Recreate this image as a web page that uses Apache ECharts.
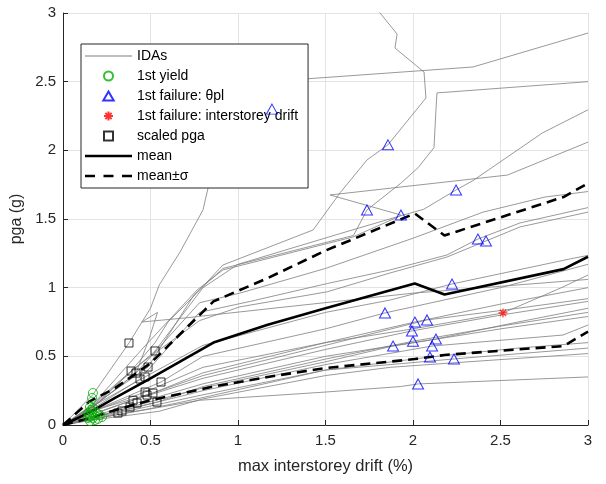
<!DOCTYPE html>
<html>
<head>
<meta charset="utf-8">
<script src="https://cdn.jsdelivr.net/npm/echarts@6/dist/echarts.min.js"></script>
<style>html,body{margin:0;padding:0;background:#fff;}#c{width:606px;height:484px;}</style>
</head>
<body>
<div id="c"></div>
<script>
// ---- tick labels / axes ----
const xTicks = [0, 0.5, 1, 1.5, 2, 2.5, 3];
const yTicks = [0, 0.5, 1, 1.5, 2, 2.5, 3];

// ---- IDA curves: [max interstorey drift (%), pga (g)] ----
const idaA = [[0,0],[0.17,0.22],[0.377,0.597],[0.5,0.85],[0.55,1.02],[0.669,1.26],[0.8,1.566],[0.829,1.726],[1.051,1.93],[1.171,2.075],[1.194,2.30],[1.143,2.498],[2.343,2.607],[3.0,2.854]];
const idaB = [[0,0],[0.16,0.14],[0.389,0.393],[0.526,0.6],[0.6,0.75],[0.743,0.932],[0.914,1.165],[1.429,1.42],[1.583,1.69],[1.737,1.93],[1.857,2.04],[2.074,2.381],[2.063,2.57],[1.897,2.745],[1.909,2.847],[1.78,3.05]];
const idaC = [[0,0],[0.16,0.13],[0.486,0.422],[0.75,0.95],[0.914,1.14],[1.66,1.38],[1.737,1.566],[1.93,1.76],[2.03,1.875],[2.12,2.02],[2.13,2.27],[2.137,2.418],[3.0,2.50]];
const idaF = [[0,0],[0.15,0.12],[0.45,0.55],[0.766,0.983],[0.914,1.129],[1.657,1.369],[1.914,1.515],[1.931,1.529],[1.526,1.675],[2.54,1.82],[3.0,2.06]];
const idaG = [[0,0],[0.17,0.14],[0.526,0.539],[0.8,1.0],[1.0,1.17],[1.6,1.4],[1.92,1.52],[2.06,1.57],[2.246,1.711],[2.343,1.78],[2.74,2.127],[3.0,2.295]];
const idaH = [[0,0],[0.16,0.11],[0.44,0.335],[0.78,0.82],[1.07,0.9],[1.51,1.03],[1.869,1.129],[2.194,1.238],[2.371,1.354],[2.611,1.471],[3.0,1.583]];
const idaI = [[0,0],[0.15,0.1],[0.389,0.393],[0.5,0.5],[0.78,0.76],[1.01,0.86],[1.51,0.97],[1.869,1.107],[2.194,1.223],[2.417,1.34],[2.611,1.442],[3.0,1.55]];
const idaJ = [[0,0],[0.15,0.11],[0.417,0.378],[0.78,0.89],[1.01,0.96],[1.5,1.14],[2.0,1.36],[2.4,1.55],[2.754,1.66],[3.0,1.70]];
const idaK = [[0,0],[0.16,0.13],[0.469,0.35],[0.8,0.58],[1.5,0.82],[1.87,0.91],[2.223,1.027],[2.9,1.21],[3.0,1.235]];
const idaL = [[0,0],[0.17,0.1],[0.56,0.313],[0.8,0.5],[1.5,0.7],[1.84,0.816],[2.5,1.0],[3.0,1.17]];
const idaM = [[0,0],[0.15,0.09],[0.469,0.24],[0.8,0.42],[1.5,0.6],[2.0,0.7],[2.514,0.816],[2.726,0.932],[2.857,1.005],[3.0,1.092]];
const idaZ = [[0,0],[0.16,0.12],[0.417,0.378],[0.49,0.62],[0.54,0.82],[0.45,0.75],[0.7,0.78],[1.2,0.85],[2.0,0.96],[3.0,1.06]];
const idaN = [[0,0],[0.16,0.1],[0.514,0.233],[0.8,0.38],[1.5,0.6],[2.011,0.75],[2.5,0.88],[3.0,1.0]];
const idaO = [[0,0],[0.17,0.08],[0.48,0.218],[0.8,0.36],[1.5,0.58],[2.08,0.765],[2.6,0.85],[3.0,0.92]];
const idaP = [[0,0],[0.15,0.07],[0.4,0.18],[0.8,0.34],[1.5,0.55],[1.994,0.685],[2.5,0.8],[3.0,0.90]];
const idaQ = [[0,0],[0.16,0.06],[0.423,0.16],[0.8,0.3],[1.5,0.5],[2.131,0.626],[2.6,0.75],[3.0,0.85]];
const idaR = [[0,0],[0.18,0.06],[0.537,0.167],[0.8,0.28],[1.5,0.48],[2.0,0.61],[2.5,0.72],[3.0,0.82]];
const idaS = [[0,0],[0.16,0.05],[0.383,0.131],[0.8,0.27],[1.5,0.46],[1.886,0.575],[2.5,0.7],[3.0,0.79]];
const idaT = [[0,0],[0.15,0.045],[0.337,0.102],[0.8,0.25],[1.5,0.44],[2.109,0.575],[2.857,0.655],[3.0,0.728]];
const idaU = [[0,0],[0.17,0.04],[0.314,0.087],[0.8,0.22],[1.5,0.4],[2.097,0.495],[2.6,0.56],[3.0,0.60]];
const idaV = [[0,0],[0.2,0.05],[0.5,0.12],[0.8,0.2],[1.5,0.4],[1.87,0.44],[2.234,0.481],[3.0,0.56]];
const idaW = [[0,0],[0.19,0.04],[0.55,0.1],[0.8,0.19],[1.5,0.36],[1.87,0.42],[2.2,0.45],[3.0,0.52]];
const idaX = [[0,0],[0.2,0.05],[0.78,0.18],[1.5,0.24],[1.93,0.28],[2.029,0.299],[3.0,0.35]];

// ---- markers ----
const firstYield = [[0.171,0.233],[0.166,0.197],[0.154,0.131],[0.171,0.124],[0.166,0.095],[0.143,0.087],[0.194,0.087],[0.211,0.073],[0.154,0.058],[0.171,0.051],[0.223,0.058],[0.143,0.051],[0.183,0.036],[0.154,0.029],[0.16,0.11],[0.18,0.07],[0.15,0.075],[0.2,0.045]];
const failTheta = [[1.194,2.30],[1.857,2.04],[2.246,1.711],[1.737,1.566],[1.931,1.529],[2.371,1.354],[2.417,1.34],[2.223,1.027],[1.84,0.816],[2.011,0.75],[2.08,0.765],[1.994,0.685],[2.131,0.626],[2.0,0.61],[1.886,0.575],[2.109,0.575],[2.097,0.495],[2.234,0.481],[2.029,0.299]];
const failDrift = [[2.514,0.816]];
const scaledPga = [[0.377,0.597],[0.526,0.539],[0.486,0.422],[0.389,0.393],[0.417,0.378],[0.469,0.35],[0.44,0.335],[0.56,0.313],[0.469,0.24],[0.514,0.233],[0.48,0.218],[0.537,0.167],[0.423,0.16],[0.4,0.18],[0.383,0.131],[0.337,0.102],[0.314,0.087]];

// ---- statistics ----
const meanCurve  = [[0,0],[0.15,0.09],[0.3,0.2],[0.5,0.34],[0.86,0.6],[1.17,0.73],[1.5,0.85],[2.01,1.03],[2.18,0.95],[2.86,1.135],[3.0,1.225]];
const meanPlusSd = [[0,0],[0.15,0.17],[0.3,0.27],[0.5,0.45],[0.86,0.9],[1.17,1.07],[1.5,1.27],[2.01,1.54],[2.18,1.38],[2.86,1.66],[3.0,1.76]];
const meanMinusSd= [[0,0],[0.15,0.05],[0.3,0.11],[0.5,0.18],[0.86,0.28],[1.17,0.35],[1.5,0.415],[2.01,0.48],[2.18,0.51],[2.86,0.575],[3.0,0.68]];

const idaCurves = [idaA,idaB,idaC,idaF,idaG,idaH,idaI,idaJ,idaK,idaL,idaM,idaZ,idaN,idaO,idaP,idaQ,idaR,idaS,idaT,idaU,idaV,idaW,idaX];

const FONT = '"Liberation Sans", Arial, Helvetica, sans-serif';
const TXT = '#262626';

const series = [];
idaCurves.forEach(function (d) {
  series.push({
    name: 'IDAs', type: 'line', data: d, symbol: 'none', showSymbol: false,
    lineStyle: { color: '#7f7f7f', width: 0.8 }, itemStyle: { color: '#7f7f7f' },
    silent: true, z: 2, animation: false
  });
});
series.push({
  name: '1st yield', type: 'scatter', data: firstYield, symbol: 'circle', symbolSize: 9,
  itemStyle: { color: 'rgba(0,0,0,0)', borderColor: '#00b000', borderWidth: 1 }, z: 5, animation: false
});
series.push({
  name: '1st failure: θpl', type: 'scatter', data: failTheta, symbol: 'triangle', symbolSize: [11, 10],
  itemStyle: { color: 'rgba(0,0,0,0)', borderColor: '#0000ff', borderWidth: 1 }, z: 5, animation: false
});
series.push({
  name: '1st failure: interstorey drift', type: 'scatter', data: failDrift,
  symbol: 'path://M5,0L5,10M0,5L10,5M1.5,1.5L8.5,8.5M8.5,1.5L1.5,8.5', symbolSize: 9,
  itemStyle: { color: 'rgba(0,0,0,0)', borderColor: '#ff0000', borderWidth: 1.2 }, z: 5, animation: false
});
series.push({
  name: 'scaled pga', type: 'scatter', data: scaledPga, symbol: 'rect', symbolSize: 8,
  itemStyle: { color: 'rgba(0,0,0,0)', borderColor: '#000000', borderWidth: 1 }, z: 5, animation: false
});
series.push({
  name: 'mean', type: 'line', data: meanCurve, symbol: 'none', showSymbol: false,
  lineStyle: { color: '#000', width: 2.6 }, itemStyle: { color: '#000' }, z: 4, animation: false
});
series.push({
  name: 'mean±σ', type: 'line', data: meanPlusSd, symbol: 'none', showSymbol: false,
  lineStyle: { color: '#000', width: 2.6, type: [10, 6] }, itemStyle: { color: '#000' }, z: 4, animation: false
});
series.push({
  name: 'mean±σ', type: 'line', data: meanMinusSd, symbol: 'none', showSymbol: false,
  lineStyle: { color: '#000', width: 2.6, type: [10, 6] }, itemStyle: { color: '#000' }, z: 4, animation: false
});

const chart = echarts.init(document.getElementById('c'), null, { renderer: 'canvas' });
chart.setOption({
  backgroundColor: '#fff',
  animation: false,
  grid: { left: 63, right: 18, top: 13, bottom: 59, containLabel: false },
  legend: {
    orient: 'vertical', left: 81, top: 44,
    backgroundColor: '#fff', borderColor: '#262626', borderWidth: 1,
    padding: [5, 10, 5, 4], itemWidth: 47, itemHeight: 9, itemGap: 6,
    selectedMode: false,
    textStyle: { fontSize: 14, color: '#000', fontFamily: FONT },
    data: [
      { name: 'IDAs', icon: 'path://M0,0H47V1H0Z' },
      { name: '1st yield', icon: 'circle' },
      { name: '1st failure: θpl', icon: 'path://M5.5,0L11,9.5L0,9.5Z' },
      { name: '1st failure: interstorey drift' },
      { name: 'scaled pga', icon: 'path://M0,0H8V8H0Z' },
      { name: 'mean', icon: 'path://M0,0H47V2.6H0Z' },
      { name: 'mean±σ', icon: 'path://M0,0H10V2.6H0Z M18.5,0H28.5V2.6H18.5Z M37,0H47V2.6H37Z' }
    ]
  },
  xAxis: {
    type: 'value', min: xTicks[0], max: xTicks[xTicks.length - 1], interval: 0.5,
    name: 'max interstorey drift (%)', nameLocation: 'middle', nameGap: 33,
    nameTextStyle: { fontSize: 16.5, color: TXT, fontFamily: FONT },
    axisLine: { show: true, onZero: false, lineStyle: { color: TXT, width: 1 } },
    axisTick: { show: true, inside: true, length: 5, lineStyle: { color: TXT } },
    axisLabel: { fontSize: 15, color: TXT, fontFamily: FONT, margin: 8 },
    splitLine: { show: true, lineStyle: { color: '#e3e3e3', width: 1 } }
  },
  yAxis: {
    type: 'value', min: yTicks[0], max: yTicks[yTicks.length - 1], interval: 0.5,
    name: 'pga (g)', nameLocation: 'middle', nameGap: 36,
    nameTextStyle: { fontSize: 16, color: TXT, fontFamily: FONT },
    axisLine: { show: true, onZero: false, lineStyle: { color: TXT, width: 1 } },
    axisTick: { show: true, inside: true, length: 5, lineStyle: { color: TXT } },
    axisLabel: { fontSize: 15, color: TXT, fontFamily: FONT, margin: 7 },
    splitLine: { show: true, lineStyle: { color: '#e3e3e3', width: 1 } }
  },
  series: series
});
</script>
</body>
</html>
